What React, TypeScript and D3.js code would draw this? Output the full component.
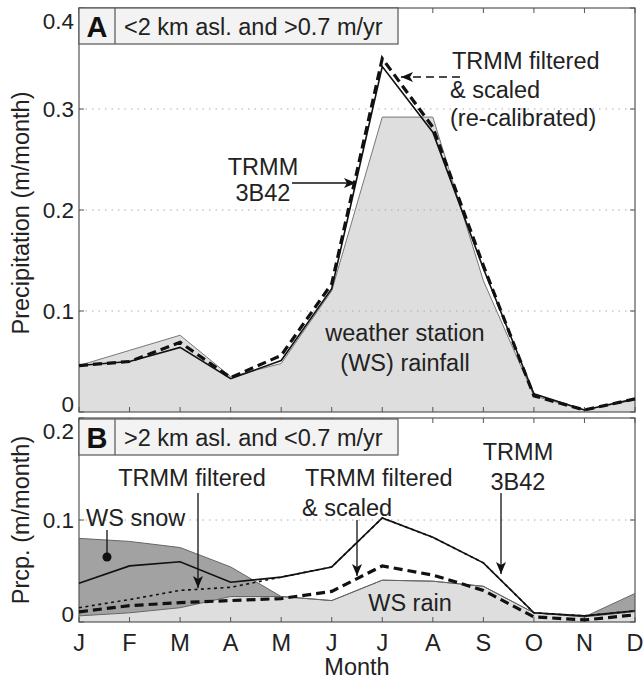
import React from "react";
import * as d3 from "d3";

const months = ["J", "F", "M", "A", "M", "J", "J", "A", "S", "O", "N", "D"];

// Panel A (<2 km asl. and >0.7 m/yr)
const wsRainA = [0.046, 0.061, 0.076, 0.035, 0.048, 0.12, 0.292, 0.292, 0.13, 0.016, 0.002, 0.012];
const trmmA = [0.046, 0.05, 0.064, 0.033, 0.051, 0.122, 0.342, 0.277, 0.142, 0.018, 0.002, 0.013];
const scaledA = [0.046, 0.05, 0.069, 0.034, 0.056, 0.127, 0.35, 0.282, 0.145, 0.016, 0.002, 0.013];
const ticksA = [0, 0.1, 0.2, 0.3, 0.4];
const tickLabelsA = ["0", "0.1", "0.2", "0.3", "0.4"];

// Panel B (>2 km asl. and <0.7 m/yr)
const wsRainB = [0.006, 0.009, 0.014, 0.025, 0.025, 0.021, 0.041, 0.04, 0.035, 0.009, 0.005, 0.01];
const wsSnowB = [0.076, 0.07, 0.059, 0.029, 0, 0, 0, 0, 0, 0, 0, 0.018];
const trmmB = [0.038, 0.055, 0.059, 0.039, 0.044, 0.054, 0.102, 0.083, 0.058, 0.009, 0.006, 0.011];
const filteredB = [0.014, 0.022, 0.031, 0.034, 0.044, 0.054, 0.102, 0.083, 0.058, 0.009, 0.006, 0.011];
const scaledB = [0.01, 0.016, 0.019, 0.021, 0.023, 0.03, 0.055, 0.046, 0.031, 0.005, 0.002, 0.007];
const ticksB = [0, 0.1, 0.2];
const tickLabelsB = ["0", "0.1", "0.2"];

const FONT = "'Liberation Sans', Arial, Helvetica, sans-serif";
const FS = 23.5;
const TFS = 22.5;

const L = 79, R = 635;
const x = d3.scaleLinear().domain([0, 11]).range([L, R]);
const yA = d3.scaleLinear().domain([0, 0.4]).range([412, 8]);
const yB = d3.scaleLinear().domain([0, 0.2]).range([622, 418]);

function lineGen(ys: d3.ScaleLinear<number, number>) {
  return d3.line<number>().x((_, i) => x(i)).y((d) => ys(d));
}

function Frame({ ys, ticks, labels, top, bottom }: any) {
  return (
    <g>
      {ticks.slice(1, -1).map((t: number, i: number) => (
        <line key={"g" + i} x1={L} x2={R} y1={ys(t)} y2={ys(t)} stroke="#aaa" strokeWidth={1} strokeDasharray="1.5,5" />
      ))}
      {months.map((_, i) => (
        <g key={"t" + i}>
          <line x1={x(i)} x2={x(i)} y1={bottom} y2={bottom - 5} stroke="#555" />
          <line x1={x(i)} x2={x(i)} y1={top} y2={top + 5} stroke="#555" />
        </g>
      ))}
      {ticks.map((t: number, i: number) => (
        <g key={"y" + i}>
          <line x1={L} x2={L + 5} y1={ys(t)} y2={ys(t)} stroke="#555" />
          <line x1={R} x2={R - 5} y1={ys(t)} y2={ys(t)} stroke="#555" />
          <text
            x={L - 5}
            y={ys(t) + (i === ticks.length - 1 ? 13 : i === 0 ? -8 : 0)}
            textAnchor="end"
            dominantBaseline="central"
            fontSize={TFS}
            fill="#222"
          >
            {labels[i]}
          </text>
        </g>
      ))}
      <rect x={L} y={top} width={R - L} height={bottom - top} fill="none" stroke="#555" strokeWidth={1.2} />
    </g>
  );
}

function Header({ top, letter, text }: any) {
  return (
    <g>
      <rect x={L} y={top} width={319} height={36} fill="#f3f3f3" stroke="#555" strokeWidth={1.2} />
      <line x1={115} x2={115} y1={top} y2={top + 36} stroke="#555" strokeWidth={1.2} />
      <text x={97} y={top + 19} textAnchor="middle" dominantBaseline="central" fontSize={29} fontWeight="bold" fill="#111">
        {letter}
      </text>
      <text x={124} y={top + 19} dominantBaseline="central" fontSize={FS} fill="#222">
        {text}
      </text>
    </g>
  );
}

export default function App() {
  const areaA = d3.area<number>().x((_, i) => x(i)).y0(yA(0)).y1((d) => yA(d));
  const rainAreaB = d3.area<number>().x((_, i) => x(i)).y0(yB(0)).y1((d) => yB(d));
  const snowTop = wsRainB.map((r, i) => r + wsSnowB[i]);
  const snowArea = d3
    .area<number>()
    .x((_, i) => x(i))
    .y0((_, i) => yB(wsRainB[i]))
    .y1((d) => yB(d));
  const lA = lineGen(yA);
  const lB = lineGen(yB);

  return (
    <svg
      width={644}
      height={679}
      style={{ position: "absolute", left: 0, top: 0, background: "#fff" }}
      fontFamily={FONT}
    >
      <defs>
        <marker id="arr" viewBox="0 0 12 10" refX="12" refY="5" markerWidth="12" markerHeight="10" markerUnits="userSpaceOnUse" orient="auto">
          <path d="M0,0 L12,5 L0,10 L3,5 Z" fill="#111" />
        </marker>
      </defs>

      {/* Panel A */}
      <path d={areaA(wsRainA) || ""} fill="#dedede" />
      <Frame ys={yA} ticks={ticksA} labels={tickLabelsA} top={8} bottom={412} />
      <path d={lA(wsRainA) || ""} fill="none" stroke="#777" strokeWidth={1} />
      <path d={lA(trmmA) || ""} fill="none" stroke="#111" strokeWidth={1.6} />
      <path d={lA(scaledA) || ""} fill="none" stroke="#111" strokeWidth={3.2} strokeDasharray="9,5" />
      <Header top={8} letter="A" text="<2 km asl. and >0.7 m/yr" />

      <text x={452} y={61} fontSize={FS} fill="#222" dominantBaseline="central">TRMM filtered</text>
      <text x={450} y={90} fontSize={FS} fill="#222" dominantBaseline="central">&amp; scaled</text>
      <text x={450} y={118} fontSize={FS} fill="#222" dominantBaseline="central">(re-calibrated)</text>
      <line x1={460} y1={77} x2={401} y2={77} stroke="#111" strokeWidth={1.3} strokeDasharray="8,5" markerEnd="url(#arr)" />

      <text x={263} y={167} textAnchor="middle" dominantBaseline="central" fontSize={FS} fill="#222">TRMM</text>
      <text x={263} y={193} textAnchor="middle" dominantBaseline="central" fontSize={FS} fill="#222">3B42</text>
      <line x1={292} y1={183} x2={356} y2={183} stroke="#111" strokeWidth={1.3} markerEnd="url(#arr)" />

      <text x={405} y={333} textAnchor="middle" dominantBaseline="central" fontSize={FS} fill="#222">weather station</text>
      <text x={405} y={363} textAnchor="middle" dominantBaseline="central" fontSize={FS} fill="#222">(WS) rainfall</text>

      {/* Panel B */}
      <path d={rainAreaB(wsRainB) || ""} fill="#dedede" />
      <path d={snowArea(snowTop) || ""} fill="#a2a2a2" />
      <Frame ys={yB} ticks={ticksB} labels={tickLabelsB} top={418} bottom={622} />
      <path d={lB(wsRainB) || ""} fill="none" stroke="#666" strokeWidth={1} />
      <path d={lB(snowTop) || ""} fill="none" stroke="#666" strokeWidth={1} />
      <path d={lB(filteredB) || ""} fill="none" stroke="#111" strokeWidth={1.6} strokeDasharray="3,3.5" />
      <path d={lB(trmmB) || ""} fill="none" stroke="#111" strokeWidth={1.6} />
      <path d={lB(scaledB) || ""} fill="none" stroke="#111" strokeWidth={3.2} strokeDasharray="9,5" />
      <Header top={419} letter="B" text=">2 km asl. and <0.7 m/yr" />

      <text x={192} y={478} textAnchor="middle" dominantBaseline="central" fontSize={FS} fill="#222">TRMM filtered</text>
      <line x1={198} y1={493} x2={198} y2={588} stroke="#111" strokeWidth={1.3} markerEnd="url(#arr)" />

      <text x={86} y={518} dominantBaseline="central" fontSize={FS} fill="#222">WS snow</text>
      <line x1={107} y1={530} x2={107} y2={557} stroke="#111" strokeWidth={1.3} />
      <circle cx={107} cy={557} r={4.5} fill="#111" />

      <text x={305} y={478} dominantBaseline="central" fontSize={FS} fill="#222">TRMM filtered</text>
      <text x={302} y={508} dominantBaseline="central" fontSize={FS} fill="#222">&amp; scaled</text>
      <line x1={357} y1={520} x2={357} y2={576} stroke="#111" strokeWidth={1.3} markerEnd="url(#arr)" />

      <text x={518} y={452} textAnchor="middle" dominantBaseline="central" fontSize={FS} fill="#222">TRMM</text>
      <text x={518} y={482} textAnchor="middle" dominantBaseline="central" fontSize={FS} fill="#222">3B42</text>
      <line x1={501} y1={493} x2={501} y2={574} stroke="#111" strokeWidth={1.3} markerEnd="url(#arr)" />

      <text x={410} y={603} textAnchor="middle" dominantBaseline="central" fontSize={FS} fill="#222">WS rain</text>

      {/* x axis labels */}
      {months.map((m, i) => (
        <text key={"m" + i} x={x(i)} y={643} textAnchor="middle" dominantBaseline="central" fontSize={FS} fill="#222">
          {m}
        </text>
      ))}
      <text x={357} y={667} textAnchor="middle" dominantBaseline="central" fontSize={FS} fill="#222">Month</text>

      <text transform="translate(21,213) rotate(-90)" textAnchor="middle" dominantBaseline="central" fontSize={FS} fill="#222">
        Precipitation (m/month)
      </text>
      <text transform="translate(21,520) rotate(-90)" textAnchor="middle" dominantBaseline="central" fontSize={FS} fill="#222">
        Prcp. (m/month)
      </text>
    </svg>
  );
}
